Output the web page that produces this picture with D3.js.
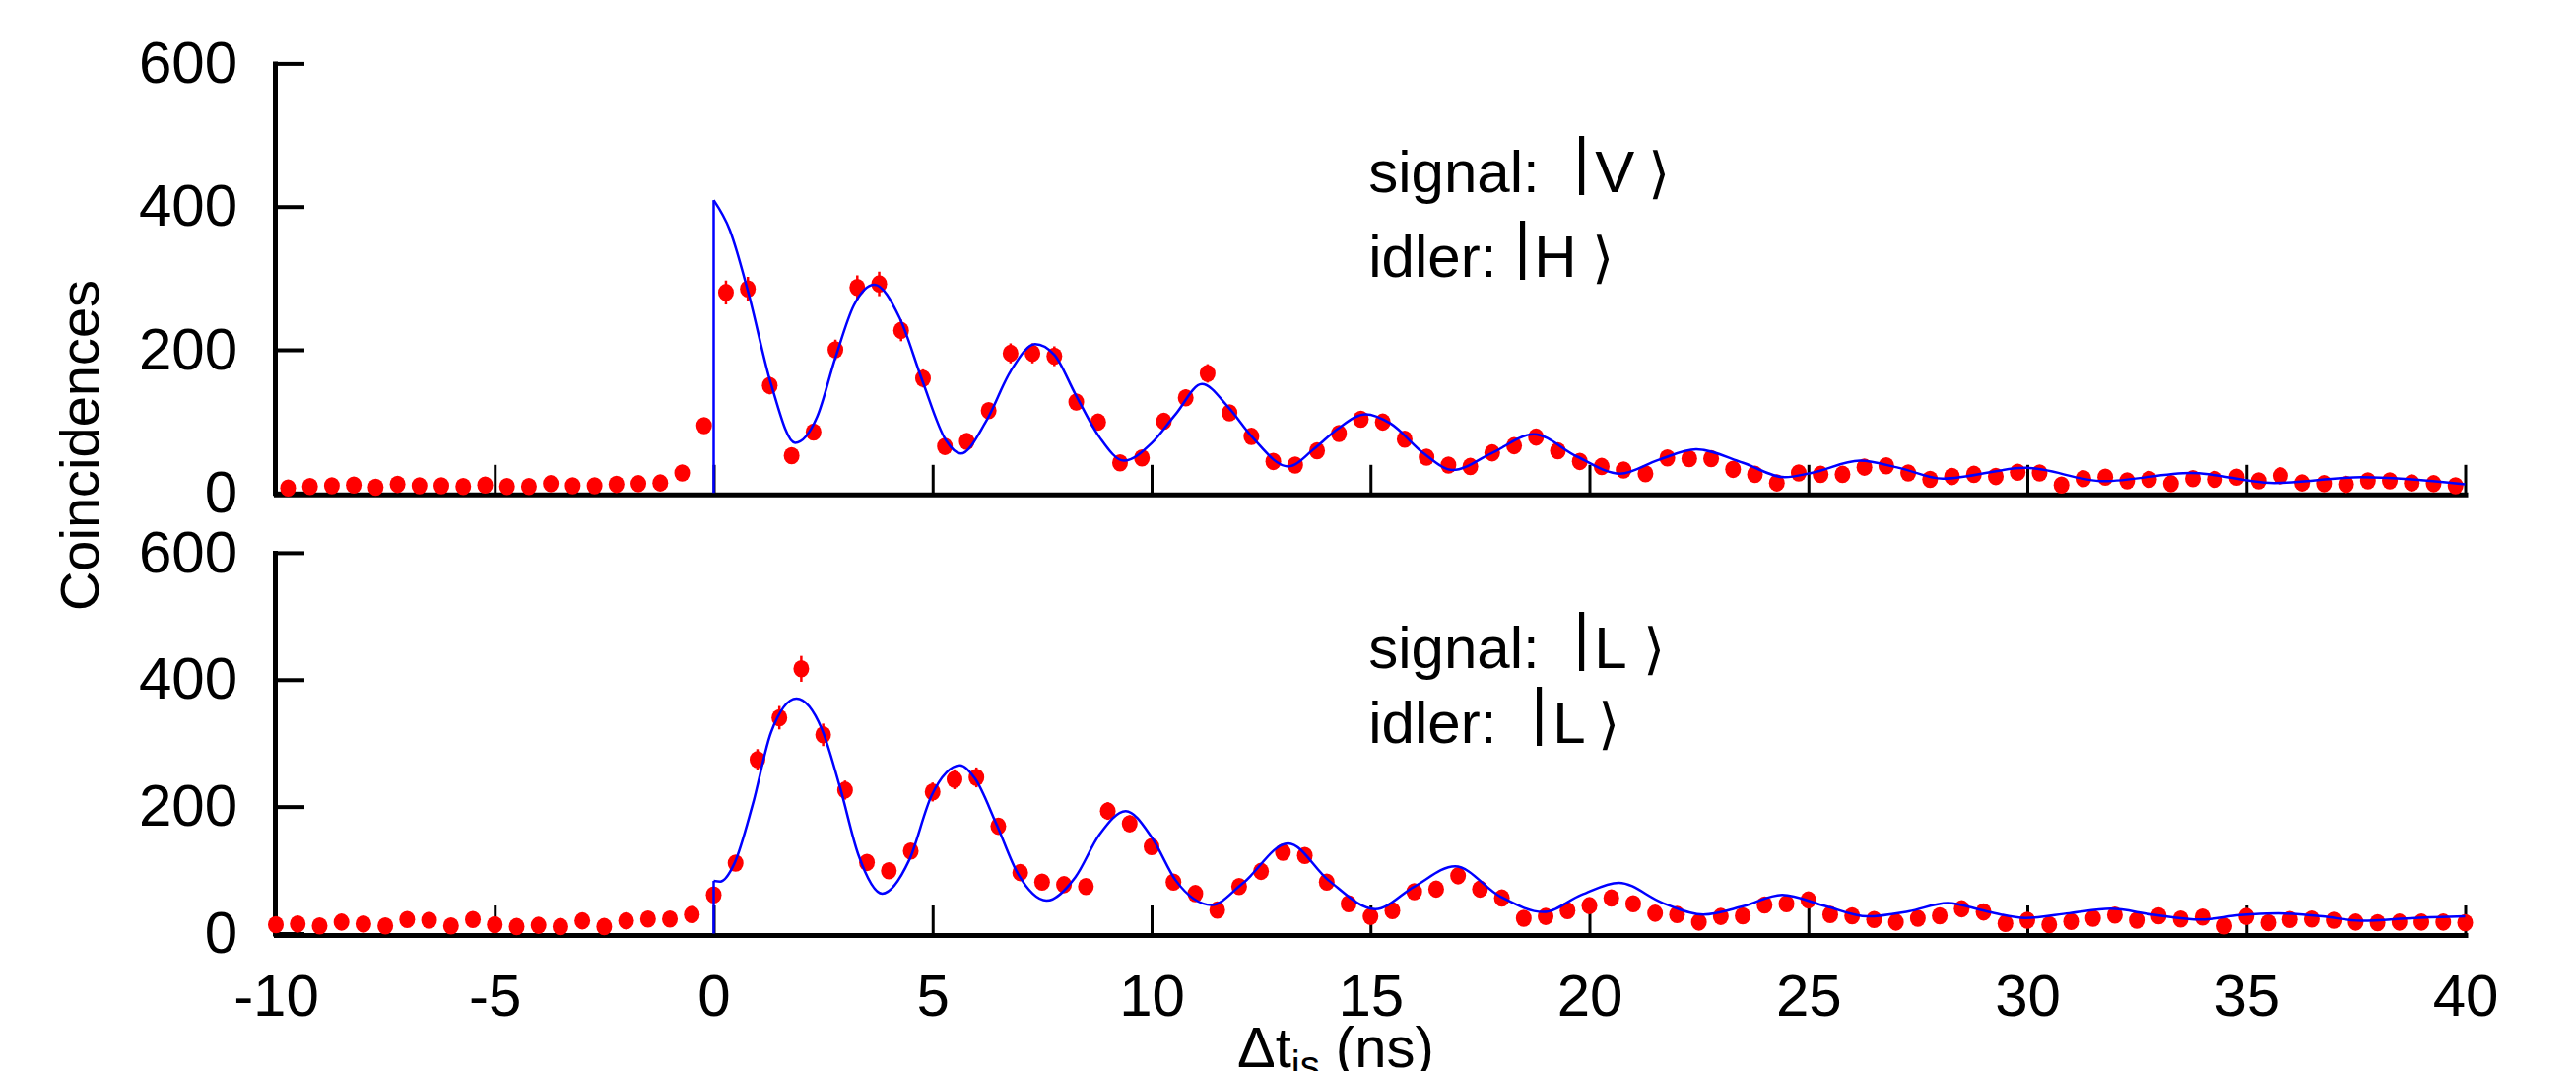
<!DOCTYPE html>
<html lang="en">
<head>
  <meta charset="UTF-8"/>
  <title>Coincidences vs Δt_is</title>
  <style>
    *{margin:0;padding:0;box-sizing:border-box}
    body{background:#fff;overflow:hidden}
    svg{display:block;font-family:"Liberation Sans",Arial,Helvetica,sans-serif}
  </style>
</head>
<body>
  <svg id="chart"></svg>

  <script src="https://d3js.org/d3.v7.min.js"></script>
  <script>
    // time bins (ns): first bin centre + bin width
    const binWidth = 0.5;
    const topStart = -9.72;
    const botStart = -10;

    // coincidence counts, signal |V> idler |H>
    const topCounts = [
      7, 9, 10, 11, 8, 12, 10, 10, 9, 11, 9, 9, 13, 10, 10, 12, 13, 14,
      28, 94, 280, 285, 150, 52, 85, 200, 287, 292, 227, 160, 65, 72,
      115, 195, 195, 191, 127, 99, 42, 49, 100, 133, 167, 112, 79, 44, 39, 59, 83, 103,
      99, 75, 50, 39, 37, 56, 66, 78, 59, 44, 37, 32, 27, 49, 48, 48,
      33, 26, 14, 28, 26, 26, 36, 38, 28, 19, 23, 26, 23, 29, 28, 11, 20, 22,
      17, 19, 13, 20, 19, 22, 17, 24, 14, 13, 12, 17, 17, 14, 13, 10
    ];

    // coincidence counts, signal |L> idler |L>
    const botCounts = [
      14, 15, 12, 18, 15, 12, 22, 21, 12, 22, 14, 11, 13, 11, 20, 11, 20, 23, 23, 30,
      61, 111, 274, 340, 417, 313, 226, 112, 99, 130, 223, 243, 246,
      169, 96, 81, 77, 74, 193, 173, 137, 81, 63, 37, 74, 98, 128, 123, 81, 47,
      27, 36, 66, 70, 91, 70, 56, 24, 27, 36, 44, 56, 47, 32, 30, 18, 27,
      28, 45, 47, 53, 30, 28, 22, 18, 24, 28, 39, 34, 16, 21, 14, 19, 24,
      29, 21, 28, 23, 26, 12, 27, 17, 22, 23, 21, 18, 17, 18, 18, 18, 17
    ];

    // fitted curves, t in ns
    const topFitT = [0, 0.37, 0.79, 1.31, 1.86, 2.36, 2.78, 3.2, 3.67, 4.25, 4.77, 5.3, 5.64,
      6.22, 6.78, 7.34, 7.78, 8.26, 8.81, 9.37, 10.01, 10.55, 11.15, 11.75, 12.3, 13.12,
      13.72, 14.26, 14.89, 15.46, 16.22, 16.88, 17.75, 18.73, 19.71, 20.7, 21.57, 22.44,
      23.51, 24.46, 25.07, 26.18, 27.07, 28.07, 29.96, 31.74, 33.74, 35.63, 37.64, 40];
    const topFitV = [409, 367, 280, 152, 70, 106, 189, 262, 291, 244, 156, 74, 55,
      100, 170, 208, 193, 138, 78, 45, 70, 110, 152, 120, 78, 37,
      62, 90, 110, 97, 55, 32, 55, 82, 51, 27, 46, 61,
      42, 22, 28, 45, 35, 20, 35, 16.5, 28, 14, 22, 12];

    const botFitT = [0, 0.15, 0.47, 0.89, 1.31, 1.89, 2.47, 2.89, 3.3, 3.85, 4.46, 4.98, 5.63,
      5.97, 6.46, 6.95, 7.6, 8.26, 8.81, 9.41, 10.01, 10.55, 11.37, 12.08, 13.12, 14.04,
      15.11, 16.0, 16.93, 17.97, 18.95, 19.82, 20.67, 21.68, 22.6, 23.51, 24.4, 25.4,
      26.35, 27.29, 28.18, 29.07, 29.96, 30.96, 31.9, 32.85, 33.96, 34.85, 35.74, 36.74,
      37.63, 38.86, 40];
    const botFitV = [83, 82, 110, 203, 317, 370, 322, 229, 125, 63, 115, 218, 265,
      244, 172, 94, 52, 89, 156, 193, 151, 84, 45, 79, 142, 84,
      38.5, 74, 106, 58, 34, 61, 80, 48, 30, 43, 61, 43,
      27, 35, 48, 35, 24.5, 32, 39, 30, 22, 29, 32, 27,
      20, 24.5, 27];

    const xTicks = [-10, -5, 0, 5, 10, 15, 20, 25, 30, 35, 40];
    const yTicks = [0, 200, 400, 600];
    const yTitle = 'Coincidences';

    const W = 2615, H = 1087;
    const svg = d3.select('#chart').attr('width', W).attr('height', H);
    svg.append('rect').attr('width', W).attr('height', H).attr('fill', '#fff');

    const x = d3.scaleLinear().domain([-10, 40]).range([280, 2502.5]);
    const yTop = d3.scaleLinear().domain([0, 600]).range([500.3, 64.4]);
    const yBot = d3.scaleLinear().domain([0, 600]).range([947.5, 560.9]);

    function panel(y, counts, start, fitT, fitV, showLabels){
      const g = svg.append('g');

      // x axis, ticks pointing inward; plain hyphen for negatives
      const xa = g.append('g')
        .attr('transform', `translate(0,${y(0) + 1.5})`)
        .call(d3.axisBottom(x).tickValues(xTicks).tickSizeInner(-30).tickSizeOuter(0)
          .tickPadding(39).tickFormat(d => showLabels ? String(d) : ''));
      xa.select('.domain').attr('stroke-width', 5).attr('stroke-linecap', 'square');
      xa.selectAll('.tick line').attr('stroke-width', 3);
      xa.selectAll('.tick text').attr('font-size', 60).attr('fill', '#000');

      // y axis
      const ya = g.append('g')
        .attr('transform', `translate(${x(-10) - 1},0)`)
        .call(d3.axisLeft(y).tickValues(yTicks).tickSizeInner(-30).tickSizeOuter(0).tickPadding(38));
      ya.select('.domain').attr('stroke-width', 5).attr('stroke-linecap', 'square');
      ya.selectAll('.tick line').attr('stroke-width', 4);
      ya.selectAll('.tick text').attr('font-size', 60).attr('fill', '#000');
      xa.attr('font-family', null); ya.attr('font-family', null);

      const pts = counts.map((c, i) => ({t: start + i * binWidth, v: c}));

      // error bars (Poisson)
      g.append('g').selectAll('line').data(pts).join('line')
        .attr('x1', d => x(d.t)).attr('x2', d => x(d.t))
        .attr('y1', d => y(d.v - Math.sqrt(d.v))).attr('y2', d => y(d.v + Math.sqrt(d.v)))
        .attr('stroke', '#ff0000').attr('stroke-width', 2.5);

      g.append('g').selectAll('ellipse').data(pts).join('ellipse')
        .attr('cx', d => x(d.t)).attr('cy', d => y(d.v)).attr('rx', 8).attr('ry', 8.8)
        .attr('fill', '#ff0000');

      // fit: step at t=0 then smooth curve
      g.append('line')
        .attr('x1', x(fitT[0])).attr('x2', x(fitT[0]))
        .attr('y1', y(0)).attr('y2', y(fitV[0]))
        .attr('stroke', '#0000ff').attr('stroke-width', 2.5);
      const line = d3.line().x(d => x(d[0])).y(d => y(d[1])).curve(d3.curveMonotoneX);
      g.append('path')
        .datum(fitT.map((t, i) => [t, fitV[i]]))
        .attr('d', line)
        .attr('fill', 'none').attr('stroke', '#0000ff').attr('stroke-width', 2.5);
      return g;
    }

    const gTop = panel(yTop, topCounts, topStart, topFitT, topFitV, false);
    const gBot = panel(yBot, botCounts, botStart, botFitT, botFitV, true);

    // state labels: ket rows
    function ket(g, y, v, prefix, state, off){
      const x0 = x(15) - 2;
      const t = g.append('text').attr('y', y(v)).attr('font-size', 60).attr('fill', '#000');
      t.append('tspan').attr('x', x0).text(prefix);
      t.append('tspan').attr('x', x0 + off[0]).attr('font-size', 64).attr('dy', -10).text('|');
      t.append('tspan').attr('x', x0 + off[1]).attr('dy', 10).text(state);
      t.append('tspan').attr('x', x0 + off[2]).attr('font-family', 'DejaVu Sans')
        .attr('font-size', 56).text('⟩');
    }
    ket(gTop, yTop, 420, 'signal:', 'V', [208, 230, 284]);
    ket(gTop, yTop, 302, 'idler:', 'H', [148, 168, 227]);
    ket(gBot, yBot, 419, 'signal:', 'L', [208, 229, 279]);
    ket(gBot, yBot, 300, 'idler:', 'L', [165, 187, 233]);

    // axis titles
    svg.append('text')
      .attr('transform', 'translate(100,452) rotate(-90)')
      .attr('text-anchor', 'middle').attr('font-size', 56).attr('fill', '#000')
      .text(yTitle);

    const xt = svg.append('text').attr('x', 1256).attr('y', 1083).attr('font-size', 58).attr('fill', '#000');
    xt.append('tspan').text('Δt');
    xt.append('tspan').attr('font-size', 40).attr('dy', 12).text('is');
    xt.append('tspan').attr('dy', -12).text(' (ns)');
  </script>
</body>
</html>
